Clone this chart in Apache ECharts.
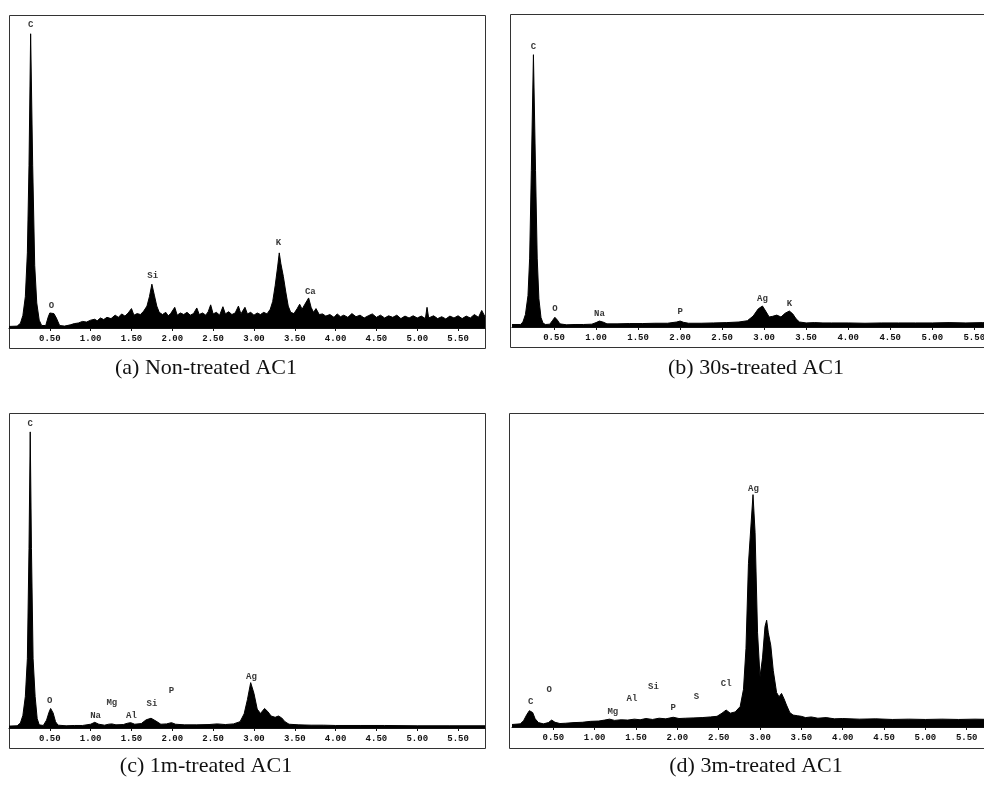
<!DOCTYPE html>
<html>
<head>
<meta charset="utf-8">
<title>EDS spectra of AC1</title>
<script src="https://cdn.jsdelivr.net/npm/echarts@6/dist/echarts.min.js"></script>
<style>
    html, body { margin: 0; padding: 0; background: #fff; }
    #chart { width: 984px; height: 796px; }
</style>
</head>
<body>
<div id="chart"></div>
<script>
    // spectra: [energy keV, counts (arbitrary, 100 = top of frame)]
    var specA = [
        [0.00,0.5],[0.10,0.6],[0.14,1.5],[0.17,4],[0.20,10],[0.225,24],[0.245,52],[0.265,94],[0.29,52],[0.315,20],[0.34,8],
        [0.37,2.5],[0.40,0.8],[0.45,0.8],[0.48,3.5],[0.50,4.8],[0.55,4.6],[0.58,3.2],[0.62,0.8],[0.68,0.6],[0.75,1.0],
        [0.80,1.4],[0.85,1.6],[0.90,2.1],[0.95,1.9],[1.00,2.5],[1.05,2.8],[1.08,2.3],[1.12,3.2],[1.16,2.7],[1.20,3.4],
        [1.25,3.0],[1.30,4.1],[1.34,3.4],[1.38,4.5],[1.42,3.8],[1.46,4.8],[1.50,6.2],[1.53,4.1],[1.57,4.6],[1.61,4.3],
        [1.65,5.4],[1.69,7.0],[1.72,10.0],[1.75,14.0],[1.78,10.5],[1.81,7.0],[1.84,5.0],[1.88,4.3],[1.92,5.0],[1.95,3.9],
        [1.98,4.6],[2.03,6.6],[2.06,4.1],[2.10,4.8],[2.14,4.3],[2.18,5.0],[2.22,4.1],[2.26,4.6],[2.30,6.4],[2.33,4.3],
        [2.37,4.8],[2.41,4.1],[2.44,5.2],[2.47,7.4],[2.50,4.5],[2.54,5.0],[2.58,4.1],[2.62,6.8],[2.65,4.5],[2.69,5.2],
        [2.73,4.3],[2.77,4.8],[2.81,7.0],[2.84,4.5],[2.89,6.6],[2.92,4.5],[2.96,5.0],[3.00,4.1],[3.04,4.8],[3.08,4.3],
        [3.12,5.0],[3.16,4.5],[3.20,6.0],[3.23,8.5],[3.26,13.5],[3.29,19.5],[3.31,24],[3.33,20.5],[3.36,16.5],[3.39,11.5],
        [3.42,7.0],[3.45,5.0],[3.49,4.6],[3.53,6.2],[3.56,7.6],[3.59,6.0],[3.62,7.4],[3.67,9.6],[3.70,6.6],[3.73,5.0],
        [3.76,6.2],[3.80,4.3],[3.84,4.5],[3.88,3.8],[3.93,4.3],[3.98,3.4],[4.02,4.5],[4.06,3.6],[4.10,4.1],[4.15,3.4],
        [4.20,4.6],[4.25,3.6],[4.30,4.1],[4.35,3.2],[4.40,3.9],[4.45,4.5],[4.50,3.4],[4.55,4.1],[4.60,3.2],[4.65,3.9],
        [4.70,3.4],[4.75,4.1],[4.80,3.0],[4.85,3.8],[4.90,3.2],[4.95,3.9],[5.00,3.2],[5.05,3.8],[5.10,3.0],[5.12,6.6],
        [5.14,3.2],[5.20,3.9],[5.25,3.0],[5.30,3.6],[5.35,2.9],[5.40,3.8],[5.45,3.2],[5.50,3.9],[5.55,3.0],[5.60,3.8],
        [5.65,3.2],[5.70,4.3],[5.75,3.4],[5.79,5.6],[5.83,3.6]
    ];
    var specB = [
        [0.00,0.8],[0.10,0.8],[0.13,1.6],[0.16,4],[0.19,10],[0.21,22],[0.23,50],[0.255,87],[0.28,50],[0.30,22],[0.32,9],
        [0.345,3],[0.37,1.2],[0.40,0.8],[0.45,0.9],[0.48,2.0],[0.51,3.1],[0.54,2.2],[0.57,1.0],[0.65,0.7],[0.75,0.8],
        [0.85,0.8],[0.95,0.9],[1.00,1.4],[1.04,1.9],[1.09,1.5],[1.13,1.0],[1.25,1.0],[1.40,1.1],[1.55,1.1],[1.70,1.2],
        [1.85,1.2],[1.96,1.6],[2.00,1.9],[2.04,1.5],[2.10,1.2],[2.25,1.2],[2.40,1.3],[2.55,1.4],[2.70,1.6],[2.80,2.0],
        [2.87,3.5],[2.93,5.8],[2.98,6.7],[3.02,5.0],[3.06,3.2],[3.10,3.4],[3.15,3.8],[3.20,3.2],[3.25,4.4],[3.30,5.1],
        [3.34,4.2],[3.38,2.6],[3.42,1.6],[3.50,1.3],[3.60,1.4],[3.70,1.3],[3.80,1.3],[4.00,1.3],[4.20,1.2],[4.40,1.3],
        [4.60,1.3],[4.80,1.3],[5.00,1.3],[5.20,1.4],[5.40,1.3],[5.60,1.4],[5.83,1.3]
    ];
    var specC = [
        [0.00,0.6],[0.10,0.7],[0.14,1.6],[0.17,4],[0.20,10],[0.225,22],[0.245,57],[0.26,94],[0.275,57],[0.295,22],[0.32,10],
        [0.345,3],[0.37,1.0],[0.42,0.8],[0.46,2.5],[0.49,5.0],[0.51,6.2],[0.54,4.8],[0.57,2.0],[0.60,0.9],[0.70,0.7],
        [0.80,0.8],[0.90,0.8],[1.00,1.2],[1.05,1.8],[1.10,1.2],[1.17,0.9],[1.22,1.2],[1.26,1.3],[1.31,1.0],[1.40,1.1],
        [1.45,1.5],[1.49,1.7],[1.54,1.2],[1.62,1.4],[1.68,2.6],[1.74,3.1],[1.80,2.2],[1.86,1.2],[1.93,1.3],[1.99,1.7],
        [2.04,1.2],[2.15,1.0],[2.30,1.0],[2.45,1.1],[2.55,1.3],[2.65,1.1],[2.75,1.3],[2.83,2.0],[2.88,4.5],[2.92,9.0],
        [2.96,14.4],[3.00,11],[3.04,6.0],[3.08,4.6],[3.13,6.2],[3.17,5.2],[3.21,3.8],[3.26,3.4],[3.30,3.8],[3.34,3.2],
        [3.38,2.0],[3.43,1.2],[3.55,1.0],[3.70,0.9],[3.85,0.9],[4.00,0.8],[4.30,0.8],[4.60,0.8],[5.00,0.7],[5.40,0.7],
        [5.83,0.7]
    ];
    var specD = [
        [0.00,0.8],[0.10,1.0],[0.14,2.0],[0.18,4.0],[0.21,5.2],[0.225,5.7],[0.25,4.6],[0.28,2.6],[0.32,1.4],[0.38,1.0],
        [0.44,1.4],[0.48,2.2],[0.52,1.5],[0.58,1.1],[0.65,1.2],[0.75,1.4],[0.85,1.5],[0.95,1.8],[1.05,1.9],[1.12,2.2],
        [1.18,2.5],[1.24,2.1],[1.32,2.3],[1.40,2.2],[1.48,2.5],[1.55,2.3],[1.62,2.7],[1.70,2.4],[1.78,2.8],[1.86,2.6],
        [1.95,3.1],[2.02,2.7],[2.10,2.8],[2.20,2.9],[2.30,3.0],[2.40,3.2],[2.48,3.4],[2.54,4.4],[2.59,5.4],[2.64,4.4],
        [2.70,4.8],[2.76,6.5],[2.80,12],[2.83,25],[2.86,52],[2.89,64],[2.915,74],[2.94,62],[2.97,30],[3.00,16],
        [3.03,22],[3.06,32],[3.08,34],[3.10,30],[3.13,26],[3.16,18],[3.20,11],[3.23,9.6],[3.26,10.7],[3.29,9],
        [3.32,7],[3.36,4.6],[3.40,3.8],[3.45,3.6],[3.50,3.4],[3.55,3.0],[3.62,3.2],[3.70,2.8],[3.80,3.0],[3.90,2.6],
        [4.00,2.7],[4.20,2.5],[4.40,2.6],[4.60,2.4],[4.80,2.5],[5.00,2.4],[5.20,2.5],[5.40,2.4],[5.60,2.5],[5.83,2.4]
    ];

    // element labels: [name, energy, height of label]
    var peaksA = [['C',0.265,97],['O',0.52,7.2],['Si',1.76,16.6],['K',3.30,27.2],['Ca',3.69,11.6]];
    var peaksB = [['C',0.255,89.5],['O',0.51,5.8],['Na',1.04,4.2],['P',2.00,4.8],['Ag',2.98,8.9],['K',3.30,7.4]];
    var peaksC = [['C',0.26,96.5],['O',0.50,8.7],['Na',1.06,3.9],['Mg',1.26,8.0],['Al',1.50,3.9],['Si',1.75,7.6],['P',1.99,11.8],['Ag',2.97,16.4]];
    var peaksD = [['C',0.225,8],['O',0.45,12],['Mg',1.22,4.9],['Al',1.45,9.1],['Si',1.71,12.8],['P',1.95,6],['S',2.23,9.6],['Cl',2.59,13.9],['Ag',2.92,76]];

    var captions = ['(a) Non-treated AC1', '(b) 30s-treated AC1', '(c) 1m-treated AC1', '(d) 3m-treated AC1'];

    var xMax = 5.83;
    var tickStep = 0.5;

    var chart = echarts.init(document.getElementById('chart'));

    // plot areas end at the spectrum baseline; the frame below holds the tick labels
    var grids = [
        { left: 9,   top: 15,  width: 476, height: 313 },
        { left: 512, top: 14,  width: 490, height: 313 },
        { left: 9,   top: 413, width: 476, height: 315 },
        { left: 512, top: 413, width: 482, height: 314 }
    ];
    var frames = [
        [9, 15, 476, 333],
        [510, 14, 490, 333],
        [9, 413, 476, 335],
        [509, 413, 490, 335]
    ];
    var spectra = [specA, specB, specC, specD];
    var peaks = [peaksA, peaksB, peaksC, peaksD];

    var xAxes = [], yAxes = [], series = [];
    grids.forEach(function (g, i) {
        g.outerBoundsMode = 'none';
        g.containLabel = false;
        xAxes.push({
            type: 'value',
            gridIndex: i,
            min: 0,
            max: xMax,
            interval: tickStep,
            splitLine: { show: false },
            axisLine: { lineStyle: { color: '#111', width: 1 } },
            axisTick: { length: 3, lineStyle: { color: '#111' } },
            axisLabel: {
                margin: 6,
                showMinLabel: false,
                showMaxLabel: false,
                hideOverlap: false,
                fontFamily: 'Liberation Mono',
                fontWeight: 'bold',
                fontSize: 9,
                color: '#111',
                formatter: function (v) { return v === 0 ? '' : v.toFixed(2); }
            }
        });
        yAxes.push({
            type: 'value',
            gridIndex: i,
            min: 0,
            max: 100,
            show: false
        });
        series.push({
            type: 'line',
            xAxisIndex: i,
            yAxisIndex: i,
            data: spectra[i],
            symbol: 'none',
            lineStyle: { color: '#000', width: 1 },
            areaStyle: { color: '#000', opacity: 1 }
        });
        series.push({
            type: 'scatter',
            xAxisIndex: i,
            yAxisIndex: i,
            symbolSize: 0,
            data: peaks[i].map(function (p) { return { name: p[0], value: [p[1], p[2]] }; }),
            label: {
                show: true,
                position: 'inside',
                formatter: '{b}',
                fontFamily: 'Liberation Mono',
                fontWeight: 'bold',
                fontSize: 9,
                color: '#000'
            }
        });
    });

    var graphics = frames.map(function (f) {
        return {
            type: 'rect',
            shape: { x: f[0] + 0.5, y: f[1] + 0.5, width: f[2], height: f[3] },
            style: { fill: null, stroke: '#333', lineWidth: 1 },
            silent: true
        };
    });

    var captionPos = [[206, 368], [756, 368], [206, 766], [756, 766]];
    captions.forEach(function (t, i) {
        graphics.push({
            type: 'text',
            x: captionPos[i][0],
            y: captionPos[i][1],
            style: {
                text: t,
                fill: '#111',
                font: '22px "Liberation Serif"',
                textAlign: 'center',
                textVerticalAlign: 'middle'
            }
        });
    });

    chart.setOption({
        animation: false,
        backgroundColor: '#fff',
        grid: grids,
        xAxis: xAxes,
        yAxis: yAxes,
        series: series,
        graphic: graphics
    });
</script>
</body>
</html>
